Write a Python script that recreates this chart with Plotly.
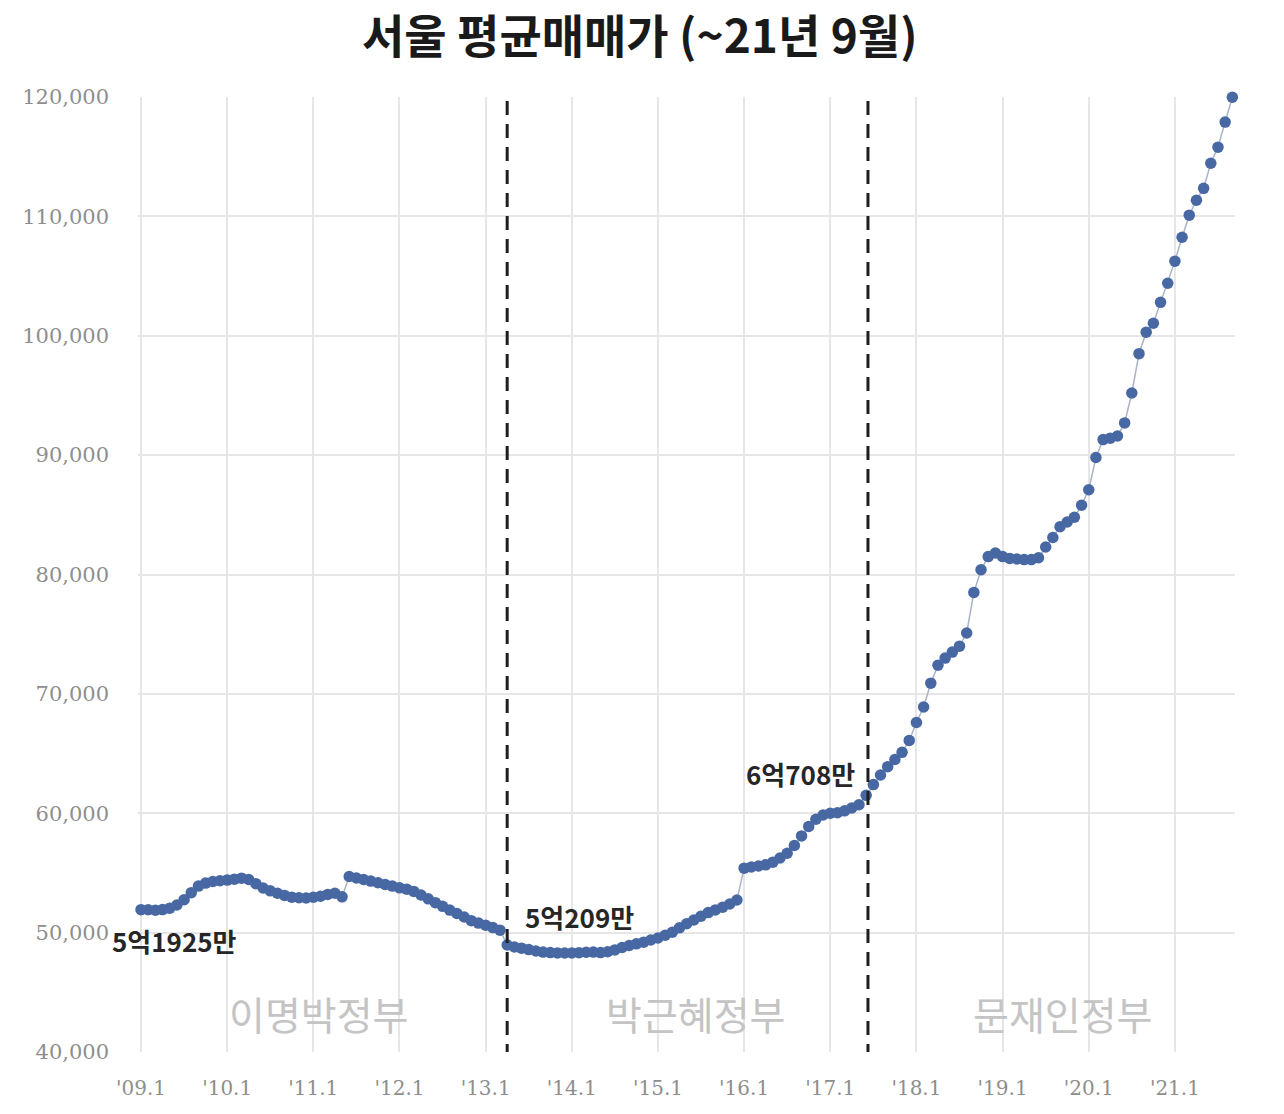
import plotly.graph_objects as go

# Monthly average sale price of Seoul apartments (unit: 10,000 KRW), 2009.1 ~ 2021.9
start_year = 2009
start_month = 1
prices = [
    51925, 51920, 51880, 51930, 52050, 52310, 52750, 53350, 53900, 54150,
    54280, 54350, 54400, 54480, 54560, 54450, 54100, 53740, 53500, 53300,
    53120, 52970, 52920, 52900, 52960, 53050, 53200, 53300, 53000, 54700,
    54580, 54450, 54320, 54180, 54040, 53900, 53750, 53640, 53450, 53150,
    52830, 52510, 52200, 51890, 51600, 51310, 51000, 50800, 50620, 50420,
    50209, 48960, 48800, 48700, 48580, 48460, 48370, 48330, 48300, 48290,
    48300, 48320, 48360, 48370, 48330, 48400, 48550, 48750, 48920, 49060,
    49200, 49380, 49550, 49780, 50030, 50400, 50750, 51060, 51380, 51680,
    51900, 52130, 52400, 52730, 55400, 55500, 55580, 55680, 55900, 56250,
    56650, 57300, 58100, 58900, 59500, 59850, 60000, 60050, 60200, 60450,
    60708, 61500, 62400, 63200, 63900, 64500, 65100, 66100, 67600, 68900,
    70900, 72400, 73000, 73500, 74000, 75100, 78500, 80400, 81500, 81800,
    81500, 81350, 81300, 81250, 81250, 81400, 82300, 83100, 84000, 84400,
    84800, 85800, 87100, 89800, 91300, 91420, 91600, 92700, 95200, 98500,
    100300, 101050, 102800, 104400, 106250, 108250, 110100, 111350, 112350, 114450,
    115800, 117900, 119978,
]

# category labels (one per month)
months = []
y, m = start_year, start_month
for _ in prices:
    months.append(f"{y}.{m}")
    m += 1
    if m > 12:
        y, m = y + 1, 1
idx = list(range(len(prices)))

tick_labels = ["'09.1", "'10.1", "'11.1", "'12.1", "'13.1", "'14.1", "'15.1",
               "'16.1", "'17.1", "'18.1", "'19.1", "'20.1", "'21.1"]
tick_months = [f"{2009 + i}.1" for i in range(len(tick_labels))]
tick_idx = [months.index(t) for t in tick_months]

y_ticks = [40000, 50000, 60000, 70000, 80000, 90000, 100000, 110000, 120000]

callouts = ["5억1925만", "5억209만", "6억708만", "11억9978만"]
eras = ["이명박정부", "박근혜정부", "문재인정부"]
title_text = "서울 평균매매가 (~21년 9월)"

fig = go.Figure()
fig.add_trace(go.Scatter(
    x=idx, y=prices, mode="lines+markers",
    line=dict(color="#a9b3c6", width=1.5),
    marker=dict(size=11.5, color="#4868a4", line=dict(width=0)),
    cliponaxis=False, hoverinfo="skip", text=months,
))

# era boundary dashed lines
for xb in [51.0, 101.25]:
    fig.add_shape(type="line", xref="x", yref="y", x0=xb, x1=xb, y0=39500, y1=120200,
                  line=dict(color="#1e1e1e", width=3, dash="14px,9px"), layer="above")

ann_font = dict(family="Noto Sans CJK KR", size=26, color="#262626")
callout_pos = [(4.7, 49380), (61.1, 51390), (91.8, 63370), (148.0, 121930)]
for txt, (ax, ay) in zip(callouts, callout_pos):
    fig.add_annotation(x=ax, y=ay, xref="x", yref="y", text=f"<b>{txt}</b>",
                       showarrow=False, font=ann_font)

era_pos = [24.65, 77.2, 128.3]
for txt, ex in zip(eras, era_pos):
    fig.add_annotation(x=ex, y=43270, xref="x", yref="y", text=txt, showarrow=False,
                       font=dict(family="Noto Sans CJK KR", size=39, color="#c4c4c4"))

# chart title as a paper-anchored annotation
fig.add_annotation(x=(640 - 138) / 1097, y=(1052 - 33) / 955, xref="paper", yref="paper",
                   xanchor="center", yanchor="middle", showarrow=False,
                   text=f"<b>{title_text}</b>",
                   font=dict(family="Noto Sans CJK KR", size=46, color="#1a1a1a"))

fig.update_layout(
    width=1284, height=1114,
    margin=dict(l=138, r=49, t=97, b=62),
    paper_bgcolor="white", plot_bgcolor="white",
    showlegend=False,
    xaxis=dict(range=[-0.42, 152.37], tickvals=tick_idx, ticktext=tick_labels,
               showgrid=True, gridcolor="#e6e6e6", gridwidth=1.5, zeroline=False,
               showline=False, ticks="", ticklabelstandoff=22,
               tickfont=dict(family="DejaVu Serif", size=20, color="#8e8e8e")),
    yaxis=dict(range=[40000, 120000], tickvals=y_ticks, tickformat=",d",
               showgrid=True, gridcolor="#e6e6e6", gridwidth=1.5, zeroline=False,
               showline=False, ticks="", ticklabelstandoff=28,
               tickfont=dict(family="DejaVu Serif", size=21, color="#8e8e8e")),
)

fig.write_html("out.html")
